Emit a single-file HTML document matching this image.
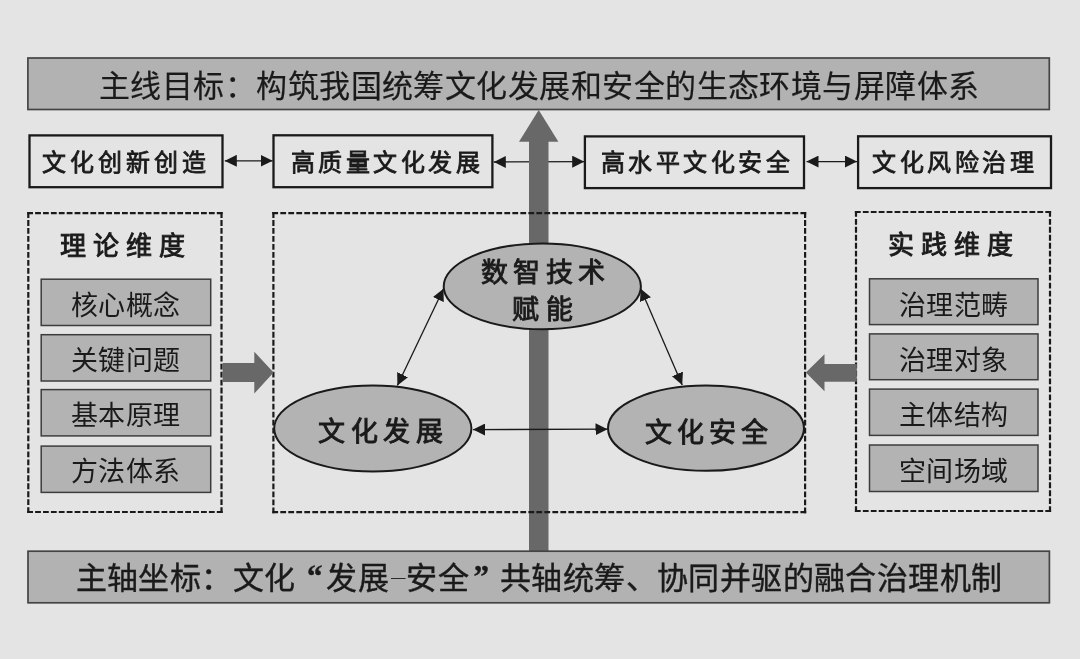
<!DOCTYPE html>
<html lang="zh-CN">
<head>
<meta charset="utf-8">
<style>
html,body{margin:0;padding:0;}
body{width:1080px;height:659px;background:#e4e4e4;position:relative;overflow:hidden;font-family:"Liberation Serif",serif;color:#1a1a1a;}
.t{position:absolute;white-space:nowrap;line-height:1;}
svg{position:absolute;left:0;top:0;}
.bar{font-size:31px;font-weight:400;letter-spacing:0.45px;}
.q{display:inline-block;width:31px;font-weight:bold;position:relative;top:-2.5px;}
.ql{text-align:right;box-sizing:border-box;padding-right:3.5px;}
.qr{text-align:left;box-sizing:border-box;padding-left:4.5px;}
.hy{display:inline-block;width:17px;color:transparent;-webkit-text-stroke:0;background:linear-gradient(#2a2a2a,#2a2a2a) no-repeat 1.5px 15.2px/14.6px 1.4px;}
.t{transform:translateZ(0);}
.sb{font-size:24px;font-weight:400;-webkit-text-stroke:0.8px #1a1a1a;letter-spacing:3.6px;}
.lab{font-size:26px;font-weight:400;-webkit-text-stroke:0.9px #1a1a1a;letter-spacing:7px;}
.gb{font-size:27px;font-weight:400;letter-spacing:0.5px;}
.el{font-size:27px;font-weight:400;-webkit-text-stroke:0.9px #1a1a1a;letter-spacing:5.4px;}
</style>
</head>
<body>
<svg width="1080" height="659" viewBox="0 0 1080 659">
  <defs>
    <marker id="ah" viewBox="0 0 12 12" refX="12" refY="6" markerWidth="12" markerHeight="12" markerUnits="userSpaceOnUse" orient="auto-start-reverse">
      <path d="M0,0 L12,6 L0,12 z" fill="#1a1a1a"/>
    </marker>
  </defs>
  <!-- top bar -->
  <rect x="27.9" y="58" width="1021.4" height="51.5" fill="#b2b2b2" stroke="#444" stroke-width="1.7"/>
  <!-- small boxes -->
  <g fill="none" stroke="#1a1a1a" stroke-width="2.3">
    <rect x="29.5" y="135.4" width="193" height="51.8"/>
    <rect x="273.5" y="135.3" width="218.9" height="51.9"/>
    <rect x="584.9" y="136.4" width="219.1" height="51.7"/>
    <rect x="858.1" y="136.3" width="192.9" height="51.8"/>
  </g>
  <!-- small double arrows -->
  <g stroke="#1a1a1a" stroke-width="1.3" marker-start="url(#ah)" marker-end="url(#ah)">
    <line x1="224.8" y1="160.8" x2="272.6" y2="160.8"/>
    <line x1="493.8" y1="162" x2="584.2" y2="161.6"/>
    <line x1="806.5" y1="161.6" x2="857" y2="161.6"/>
  </g>
  <!-- big vertical arrow -->
  <g fill="#686868">
    <rect x="529" y="141" width="19.5" height="410"/>
    <path d="M538.7,110 L558.4,141.7 L519,141.7 z"/>
  </g>
  <!-- dashed boxes -->
  <g fill="none" stroke="#1a1a1a" stroke-width="2.2">
    <path d="M27.20,213.20 L222.60,213.20" stroke-dasharray="5.8 2.100"/>
    <path d="M221.50,212.10 L221.50,513.10" stroke-dasharray="5.8 2.178"/>
    <path d="M27.20,512.00 L222.60,512.00" stroke-dasharray="5.8 2.100"/>
    <path d="M28.30,212.10 L28.30,513.10" stroke-dasharray="5.8 2.178"/>
    <path d="M272.30,213.20 L806.20,213.20" stroke-dasharray="5.8 2.202"/>
    <path d="M805.10,212.10 L805.10,513.30" stroke-dasharray="5.8 2.184"/>
    <path d="M272.30,512.20 L806.20,512.20" stroke-dasharray="5.8 2.202"/>
    <path d="M273.40,212.10 L273.40,513.30" stroke-dasharray="5.8 2.184"/>
    <path d="M854.90,212.00 L1051.10,212.00" stroke-dasharray="5.8 2.133"/>
    <path d="M1050.00,210.90 L1050.00,512.10" stroke-dasharray="5.8 2.184"/>
    <path d="M854.90,511.00 L1051.10,511.00" stroke-dasharray="5.8 2.133"/>
    <path d="M856.00,210.90 L856.00,512.10" stroke-dasharray="5.8 2.184"/>
  </g>
  <!-- gray boxes left -->
  <g fill="#b3b3b3" stroke="#3c3c3c" stroke-width="1.5">
    <rect x="41.2" y="279.2" width="169.5" height="46.3"/>
    <rect x="41.2" y="334.7" width="169.5" height="46.3"/>
    <rect x="41.2" y="389.6" width="169.5" height="46.3"/>
    <rect x="41.2" y="446.1" width="169.5" height="46.3"/>
    <rect x="869.5" y="278.8" width="168.5" height="45.8"/>
    <rect x="869.5" y="333.9" width="168.5" height="45.8"/>
    <rect x="869.5" y="389.1" width="168.5" height="46.3"/>
    <rect x="869.5" y="445" width="168.5" height="46.5"/>
  </g>
  <!-- fat side arrows -->
  <g fill="#686868">
    <path d="M222.6,362.9 L254.3,362.9 L254.3,351.8 L273.6,372.4 L254.3,393.4 L254.3,381.9 L222.6,381.9 z"/>
    <path d="M856.8,364 L824.5,364 L824.5,354.2 L805.9,372.6 L824.5,391.3 L824.5,381.7 L856.8,381.7 z"/>
  </g>
  <!-- ellipses -->
  <g fill="#b3b3b3" stroke="#1a1a1a" stroke-width="2">
    <ellipse cx="542.3" cy="286.4" rx="98.6" ry="42.8"/>
    <ellipse cx="372.8" cy="428.5" rx="98.6" ry="43"/>
    <ellipse cx="706" cy="428.2" rx="98" ry="42.6"/>
  </g>
  <!-- ellipse arrows -->
  <g stroke="#1a1a1a" stroke-width="1.3" marker-start="url(#ah)" marker-end="url(#ah)">
    <line x1="443.5" y1="288.7" x2="397.4" y2="385.5"/>
    <line x1="640.7" y1="288.7" x2="682.2" y2="384.9"/>
    <line x1="473" y1="429.6" x2="607.5" y2="429.2"/>
  </g>
  <!-- bottom bar -->
  <rect x="28" y="551.2" width="1021.4" height="51.6" fill="#b2b2b2" stroke="#444" stroke-width="1.7"/>
</svg>

<div class="t bar" style="left:99px;top:71px;-webkit-text-stroke:0.2px #1a1a1a;">主线目标：构筑我国统筹文化发展和安全的生态环境与屏障体系</div>

<div class="t sb" style="left:42px;top:150.5px;letter-spacing:4.1px;">文化创新创造</div>
<div class="t sb" style="left:290.5px;top:150.5px;">高质量文化发展</div>
<div class="t sb" style="left:600.5px;top:151px;">高水平文化安全</div>
<div class="t sb" style="left:872px;top:151px;">文化风险治理</div>

<div class="t lab" style="left:59.5px;top:234px;">理论维度</div>
<div class="t lab" style="left:888px;top:232.5px;">实践维度</div>

<div class="t gb" style="left:70.5px;top:293px;">核心概念</div>
<div class="t gb" style="left:70.5px;top:348px;">关键问题</div>
<div class="t gb" style="left:70.5px;top:403px;">基本原理</div>
<div class="t gb" style="left:70.5px;top:459px;">方法体系</div>

<div class="t gb" style="left:898.5px;top:292.5px;">治理范畴</div>
<div class="t gb" style="left:898.5px;top:347.5px;">治理对象</div>
<div class="t gb" style="left:898.5px;top:402.5px;">主体结构</div>
<div class="t gb" style="left:898.5px;top:458.5px;">空间场域</div>

<div class="t el" style="left:481px;top:259.5px;">数智技术</div>
<div class="t el" style="left:512px;top:297px;letter-spacing:7.3px;">赋能</div>
<div class="t el" style="left:318px;top:419px;letter-spacing:5.6px;">文化发展</div>
<div class="t el" style="left:645px;top:420px;letter-spacing:4.9px;">文化安全</div>

<div class="t bar" style="left:75.6px;top:563px;font-weight:400;letter-spacing:0.4px;-webkit-text-stroke:0.4px #1a1a1a;">主轴坐标：文化<span class="q ql">“</span>发展<span class="hy">-</span>安全<span class="q qr">”</span>共轴统筹、协同并驱的融合治理机制</div>
</body>
</html>
